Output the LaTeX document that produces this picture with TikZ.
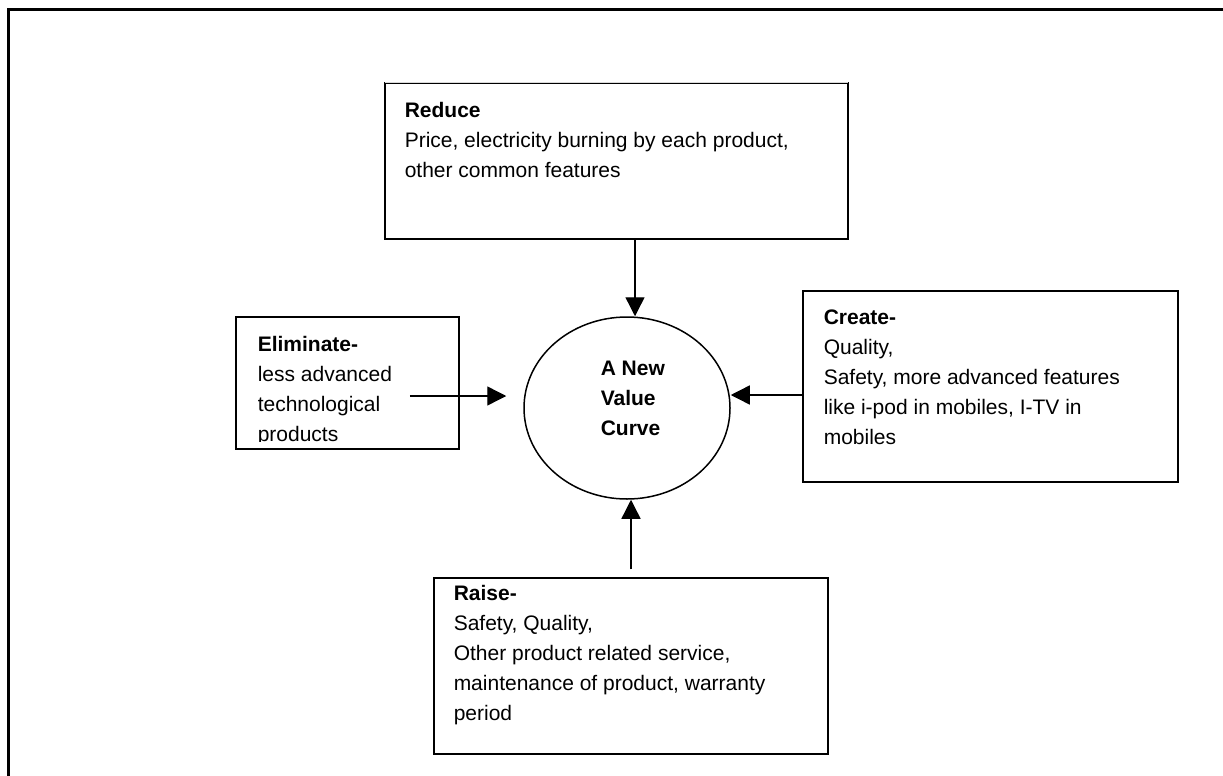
\documentclass[tikz,border=0pt]{standalone}
\usepackage{fontspec}
\setmainfont{Liberation Sans}
\usetikzlibrary{arrows.meta,shapes.geometric}

\begin{document}
\begin{tikzpicture}[x=1pt,y=-1pt,>={Triangle[length=19pt,width=19pt]},line width=1.5pt,
  valuebox/.style={rectangle,draw,inner sep=0pt},
  boxtext/.style={anchor=north west,align=left,inner sep=0pt,font=\fontsize{21}{30}\selectfont},
  arr/.style={->,line width=1.4pt}]

\useasboundingbox (0,0) rectangle (1223,776);
\draw[line width=3pt] (8,776) -- (8,10) -- (1223,10);

% boxes
\node[valuebox, minimum width=463, minimum height=156] (reduce) at (616.5,161) {};
\draw[white, line width=2.2pt] ([xshift=1]reduce.north west) -- ([xshift=-1]reduce.north east);
\draw[black!15, line width=1pt] ([xshift=1]reduce.north west) -- ([xshift=-1]reduce.north east);
\node[valuebox, minimum width=223, minimum height=132] (elim) at (347.5,383) {};
\node[valuebox, minimum width=375, minimum height=191] (create) at (990.5,386.5) {};
\node[valuebox, minimum width=394, minimum height=176] (raise) at (631,666) {};

\node[ellipse, draw, minimum width=206, minimum height=182, inner sep=0pt] (curve) at (627,408) {};

% texts
\node[boxtext] (reducetxt) at (404,101.5) {\textbf{Reduce}\\Price, electricity burning by each product,\\other common features};
\begin{scope}
  \clip (236,317) rectangle (459,441);
  \node[boxtext] (elimtxt) at (257,335.5) {\textbf{Eliminate-}\\less advanced\\technological\\products};
\end{scope}
\node[boxtext] (createtxt) at (823,309.5) {\textbf{Create-}\\Quality,\\Safety, more advanced features\\like i-pod in mobiles, I-TV in\\mobiles};
\node[boxtext] (raisetxt) at (453,584.5) {\textbf{Raise-}\\Safety, Quality,\\Other product related service,\\maintenance of product, warranty\\period};
\node[boxtext, font=\bfseries\fontsize{21}{30}\selectfont] (curvetxt) at (600,360.7) {A New\\Value\\Curve};

% arrows
\draw[arr] ([xshift=8]reduce.south -| curve.north) -- ([xshift=8]curve.north);
\draw[arr] ([shift={(-50,13)}]elim.east) -- ([shift={(-17,-12)}]curve.west);
\draw[arr] ([shift={(0,8.5)}]create.west) -- ([shift={(0,-13)}]curve.east);
\draw[arr] ([yshift=8]raise.north) -- (raise.north |- curve.south);

\end{tikzpicture}
\end{document}
